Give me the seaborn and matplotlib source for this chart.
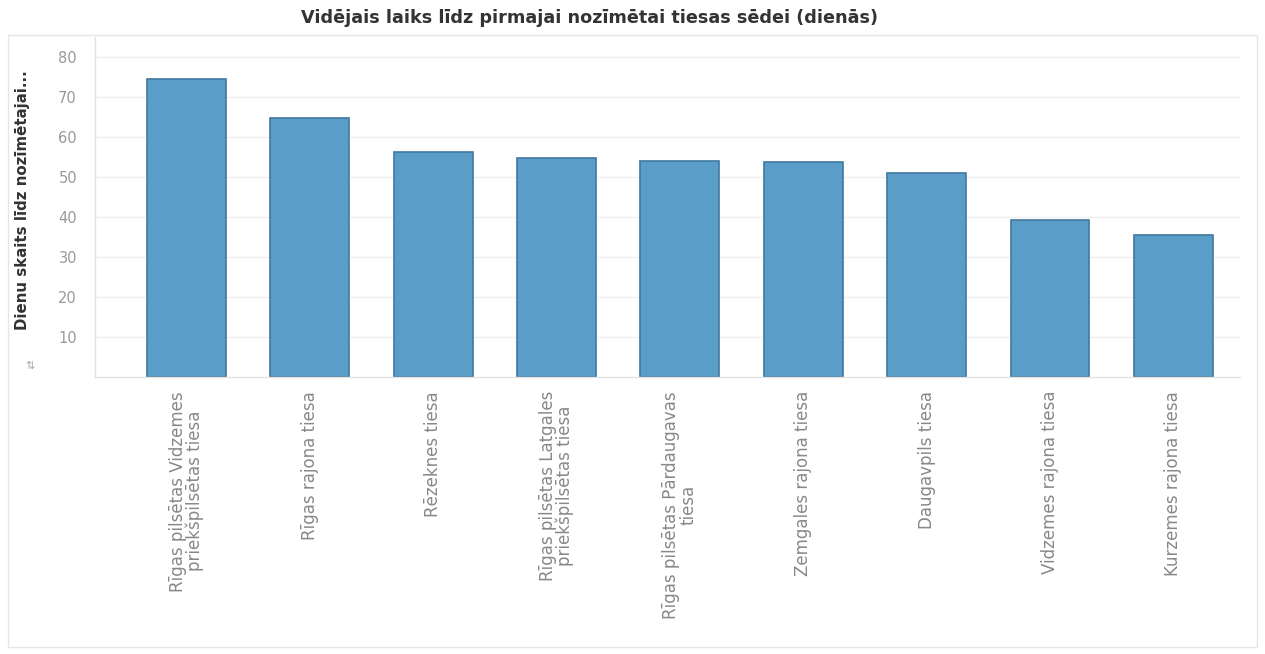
import numpy as np
import matplotlib.pyplot as plt
import pandas as pd
import seaborn as sns
from matplotlib.patches import Rectangle

tiesas = ["Rīgas pilsētas Vidzemes\npriekšpilsētas tiesa",
          "Rīgas rajona tiesa",
          "Rēzeknes tiesa",
          "Rīgas pilsētas Latgales\npriekšpilsētas tiesa",
          "Rīgas pilsētas Pārdaugavas\ntiesa",
          "Zemgales rajona tiesa",
          "Daugavpils tiesa",
          "Vidzemes rajona tiesa",
          "Kurzemes rajona tiesa"]
dienas = [74.5, 64.7, 56.2, 54.7, 54.1, 53.7, 51.0, 39.3, 35.5]
y_ticks = [10, 20, 30, 40, 50, 60, 70, 80]

dati = pd.DataFrame({"tiesa": tiesas, "dienas": dienas})

sns.set_style("whitegrid")
plt.rcParams['font.family'] = ['DejaVu Sans']

fig = plt.figure(figsize=(12.65, 6.54), dpi=100)
fig.patch.set_facecolor("white")
ax = fig.add_axes([95/1265, 1 - 377/654, (1240 - 95)/1265, (377 - 37)/654])

sns.barplot(data=dati, x="tiesa", y="dienas", ax=ax, color="#5b9dc9",
            saturation=1, width=0.64, edgecolor="#41789f", linewidth=1.2)

ax.set_xlim(-0.74, 8.54)
ax.set_ylim(0, 85)
ax.set_yticks(y_ticks)
ax.grid(axis="y", color="#efefef", linewidth=1)
ax.grid(axis="x", visible=False)
ax.set_axisbelow(True)

for s in ["top", "right"]:
    ax.spines[s].set_visible(False)
for s in ["left", "bottom"]:
    ax.spines[s].set_color("#e2e2e2")
    ax.spines[s].set_linewidth(1)

ax.tick_params(axis="y", colors="#999999", labelsize=10.5, length=5, width=0.8, pad=8)
ax.tick_params(axis="y", color="#dddddd")
ax.tick_params(axis="x", colors="#888888", labelsize=12, length=0, pad=10)
for t in ax.get_xticklabels():
    t.set_rotation(90)
    t.set_linespacing(0.92)

ax.set_xlabel("")
ax.set_ylabel("Dienu skaits līdz nozīmētajai...", fontsize=10.8, fontweight="bold",
              color="#333333")
ax.yaxis.set_label_coords(-0.057, 0.52)

fig.text(0.466, 1 - 18/654, "Vidējais laiks līdz pirmajai nozīmētai tiesas sēdei (dienās)",
         ha="center", va="center", fontsize=12.7, fontweight="bold", color="#333333")
fig.text(30/1265, 1 - 366/654, "⇅", ha="center", va="center", fontsize=8,
         color="#aaaaaa")

# panel frame
fig.patches.append(Rectangle((8/1265, 0.01), (1257 - 8)/1265, 1 - 35/654 - 0.01,
                             transform=fig.transFigure, fill=False,
                             edgecolor="#e6e6e6", linewidth=1))

fig.savefig("out.png", dpi=100, facecolor=fig.get_facecolor())
